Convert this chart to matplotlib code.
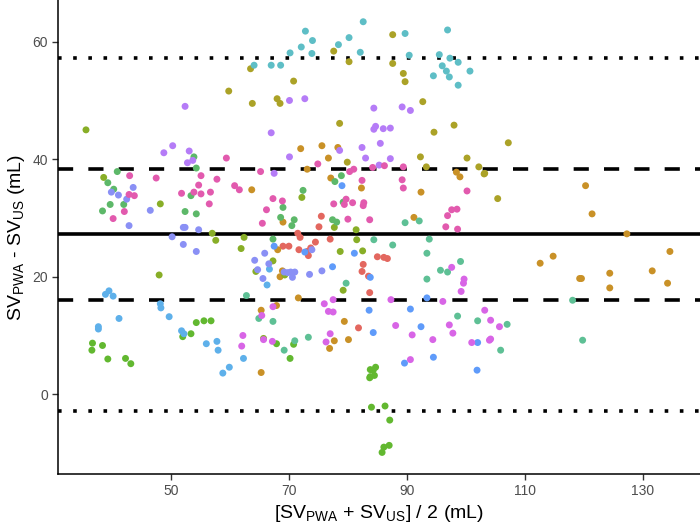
import numpy as np
import matplotlib
matplotlib.use("Agg")
from matplotlib import pyplot as plt

plt.rcParams['font.family'] = ['Liberation Sans', 'DejaVu Sans']
plt.rcParams['mathtext.fontset'] = 'custom'
plt.rcParams['mathtext.rm'] = 'Liberation Sans'
plt.rcParams['mathtext.it'] = 'Liberation Sans'

# mean difference and limits
bias = 27.2
inner_lo, inner_hi = 16.05, 38.3
loa_lo, loa_hi = -2.9, 57.3

# points per subject: (mean of the two SV, difference)
gold = [(72.0, 41.8), (75.6, 42.3), (78.3, 42.0), (76.7, 40.2), (63.7, 34.8), (65.3, 14.3),
        (65.3, 3.7), (77.7, 9.1), (76.9, 7.8), (80.1, 9.3), (79.4, 12.4), (120.3, 35.5),
        (121.4, 30.7), (127.3, 27.3), (134.6, 24.3), (114.8, 23.5), (112.6, 22.3), (131.6, 21.0),
        (124.4, 20.6), (119.3, 19.7), (119.6, 19.7), (134.2, 18.9), (124.4, 18.1), (73.1, 38.3),
        (98.4, 37.8), (99.0, 37.0), (77.1, 36.8), (82.3, 35.1), (92.4, 34.4), (69.0, 29.3),
        (91.2, 30.1), (68.1, 24.6), (68.9, 21.0), (68.5, 20.0), (71.6, 16.4), (67.9, 15.1)]
olive = [(63.5, 55.4), (59.8, 51.6), (63.8, 49.5), (68.0, 50.3), (77.6, 58.4), (80.2, 56.6),
         (87.6, 61.2), (87.6, 56.3), (89.4, 54.6), (89.7, 53.2), (70.8, 53.3), (68.5, 49.5),
         (92.7, 49.8), (78.6, 46.1), (98.0, 45.8), (94.6, 44.6), (79.9, 39.5), (92.3, 40.4),
         (100.2, 40.2), (107.2, 42.8), (103.2, 37.6), (105.4, 33.3), (93.3, 38.7), (102.2, 38.7),
         (103.1, 37.5)]
yellowgreen = [(35.6, 45.0), (38.6, 36.9), (48.2, 32.4), (57.0, 27.4), (57.6, 26.2), (62.4, 26.7),
               (61.9, 24.8), (67.3, 22.7), (64.4, 20.9), (48.0, 20.3), (72.2, 33.5), (77.7, 28.4),
               (81.4, 28.0), (81.5, 26.3), (78.7, 24.3), (82.5, 24.4), (69.3, 20.3), (79.2, 17.7),
               (65.7, 9.5)]
green = [(54.3, 12.2), (55.6, 12.5), (56.8, 12.5), (36.7, 8.7), (36.6, 7.5), (38.4, 8.3),
         (39.3, 6.0), (42.3, 6.1), (43.2, 5.2), (52.0, 9.8), (53.4, 10.3), (67.9, 8.6),
         (70.8, 8.5), (70.2, 6.1), (83.8, 4.2), (84.7, 4.6), (84.3, 4.1), (84.5, 3.2),
         (83.7, 2.8), (83.8, 3.0), (84.0, -2.2), (86.3, -2.0), (87.1, -4.4), (87.0, -8.7),
         (86.1, -9.0), (85.8, -9.9)]
midgreen = [(40.9, 37.9), (39.3, 36.0), (40.3, 34.9), (39.7, 32.3), (42.0, 32.3), (38.4, 31.2),
            (53.9, 40.4), (54.3, 38.5), (53.4, 33.8), (52.4, 31.1), (54.3, 30.7), (67.3, 26.4),
            (78.9, 37.2), (77.8, 36.2), (72.4, 34.7), (69.0, 31.8), (79.2, 32.7), (68.6, 30.1),
            (70.9, 29.7), (70.5, 28.7), (77.4, 29.7), (78.1, 29.3)]
teal = [(62.8, 16.8), (64.9, 12.9), (67.3, 12.4), (71.0, 9.1), (69.2, 7.5), (73.3, 9.7),
        (102.0, 12.5), (107.0, 11.9), (105.9, 7.5), (119.8, 9.2), (118.1, 16.0), (89.7, 29.2),
        (92.1, 29.5), (84.4, 26.3), (87.6, 25.4), (93.8, 26.4), (93.4, 24.0), (95.7, 21.1),
        (96.9, 20.8), (99.1, 22.6), (93.4, 19.6), (79.7, 18.9), (98.6, 13.3)]
cyan = [(64.1, 56.0), (67.0, 56.0), (82.6, 63.4), (72.8, 61.8), (74.0, 60.2), (72.1, 59.1),
        (70.2, 58.1), (73.9, 58.0), (78.4, 59.5), (80.2, 60.7), (82.1, 58.2), (68.6, 56.0),
        (89.7, 61.4), (96.9, 62.0), (90.4, 57.7), (95.5, 57.8), (97.3, 57.2), (98.7, 56.5),
        (96.0, 55.9), (96.7, 55.0), (97.2, 54.0), (94.5, 54.2), (100.7, 55.0), (98.7, 52.6)]
lightblue = [(66.7, 21.3), (66.3, 18.6), (38.9, 17.0), (39.5, 17.6), (40.2, 16.7), (48.2, 15.4),
             (48.3, 14.7), (49.7, 13.2), (41.2, 12.9), (37.7, 11.5), (37.7, 11.1), (51.8, 10.8),
             (52.2, 10.3), (56.0, 8.6), (57.8, 9.0), (58.0, 7.5), (59.9, 4.6), (58.8, 3.6),
             (62.3, 6.1)]
blue = [(84.3, 10.5), (92.4, 11.5), (102.0, 8.8), (101.9, 4.1), (89.6, 5.3), (94.5, 6.3),
        (79.0, 35.5), (67.5, 25.2), (72.7, 24.2), (81.1, 24.0), (77.4, 21.7), (83.8, 19.9),
        (83.6, 14.3), (90.6, 14.5), (93.4, 16.4)]
periwinkle = [(43.6, 35.2), (39.9, 34.4), (41.1, 33.9), (42.5, 33.2), (42.9, 28.7), (46.5, 31.3),
              (52.1, 28.4), (52.4, 28.4), (54.7, 28.0), (50.2, 26.8), (52.1, 25.5), (54.3, 24.3),
              (65.9, 24.0), (64.2, 22.8), (64.7, 21.2), (66.6, 22.2), (65.6, 19.7), (73.9, 24.6),
              (69.2, 20.8), (69.8, 20.7), (70.3, 20.8), (71.0, 20.8), (70.6, 19.9), (73.5, 20.4),
              (75.6, 21.0)]
purple = [(52.4, 49.0), (67.0, 44.5), (50.3, 42.3), (48.8, 41.1), (53.1, 41.4), (53.7, 39.8),
          (52.8, 39.4), (70.1, 50.0), (72.7, 50.3), (84.4, 48.7), (89.2, 48.9), (90.6, 48.3),
          (84.7, 45.6), (84.4, 45.1), (86.0, 45.2), (87.2, 45.3), (85.5, 42.7), (82.4, 42.0),
          (78.6, 41.5), (70.1, 40.4), (83.0, 40.2), (87.2, 40.1), (67.5, 37.6), (85.3, 39.0)]
magenta = [(65.4, 13.4), (67.3, 14.9), (62.2, 10.0), (62.0, 8.2), (65.7, 9.3), (67.2, 9.0),
           (77.0, 10.3), (76.3, 8.9), (88.1, 11.7), (90.9, 10.1), (94.4, 9.3), (97.2, 11.8),
           (97.8, 10.4), (101.0, 8.8), (104.0, 9.2), (90.6, 5.9), (104.2, 12.6), (105.7, 11.5),
           (104.2, 9.4), (103.2, 14.3), (97.6, 21.6), (99.7, 19.6), (99.6, 18.9), (99.2, 17.5),
           (76.0, 15.4), (77.5, 16.1), (76.7, 14.1), (77.5, 14.0), (87.3, 16.1), (96.1, 15.8)]
pink = [(59.4, 40.2), (74.9, 39.2), (86.2, 38.9), (89.4, 38.7), (43.0, 37.2), (47.5, 36.8),
        (42.9, 34.0), (43.8, 33.8), (42.1, 31.1), (40.2, 29.9), (55.1, 37.2), (57.8, 36.6),
        (54.7, 35.6), (51.8, 34.2), (53.9, 34.4), (55.1, 34.1), (56.7, 34.4), (56.5, 32.4),
        (60.8, 35.5), (61.6, 34.8), (65.2, 37.9), (67.3, 33.3), (66.2, 31.4), (65.5, 29.1),
        (81.0, 38.3), (80.3, 37.9), (84.2, 38.6), (82.4, 36.4), (89.2, 36.5), (89.4, 35.1),
        (100.2, 34.6), (68.9, 32.9), (77.6, 32.4), (79.7, 33.2), (79.4, 32.3), (80.8, 32.6),
        (82.7, 32.6), (82.6, 32.1), (80.0, 29.8), (83.7, 29.7), (97.6, 31.4), (98.5, 31.5),
        (96.9, 30.4), (96.6, 28.5), (98.6, 28.1)]
red = [(81.8, 11.3), (75.5, 30.3), (75.1, 28.5), (71.9, 26.7), (71.5, 27.4), (74.5, 25.9),
       (77.0, 26.4), (69.0, 25.2), (70.0, 25.2), (73.7, 24.9), (71.7, 24.6), (73.1, 24.3),
       (73.3, 23.6), (85.0, 23.4), (86.1, 23.3), (86.7, 23.1), (82.6, 22.1), (82.4, 20.9),
       (83.5, 20.1), (83.7, 17.3)]

groups = [(red, '#E3675F'), (gold, '#C99127'), (olive, '#ABA227'), (yellowgreen, '#88AE27'),
          (green, '#62B830'), (midgreen, '#5DB869'), (teal, '#5EC095'), (cyan, '#5EBEC6'),
          (lightblue, '#5EB0EA'), (blue, '#5F9BFA'), (periwinkle, '#8A90F5'),
          (purple, '#B57CF7'), (magenta, '#D865E6'), (pink, '#E25AAE')]

fig = plt.figure(figsize=(7, 5.29), dpi=100)
ax = fig.add_axes([0.0824, 0.104, 0.9176, 0.896])

lw = 2.6
ax.axhline(bias, color='black', lw=lw, zorder=1)
for v in (inner_lo, inner_hi):
    ax.axhline(v, color='black', lw=lw, dashes=(4.2, 4.2), zorder=1)
for v in (loa_lo, loa_hi):
    ax.axhline(v, color='black', lw=lw, dashes=(1, 3.2), dash_capstyle='butt', zorder=1)

for pts, col in groups:
    pts = np.array(pts)
    ax.scatter(pts[:, 0], pts[:, 1], s=25, color=col, edgecolors='none', zorder=2)

ax.set_xlim(30.8, 139.7)
ax.set_ylim(-13.57, 67.1)
ax.set_xticks([50, 70, 90, 110, 130])
ax.set_yticks([0, 20, 40, 60])

for s in ('top', 'right'):
    ax.spines[s].set_visible(False)
for s in ('left', 'bottom'):
    ax.spines[s].set_linewidth(1.1)
    ax.spines[s].set_color('black')
ax.tick_params(length=4, width=1.0, color='#333333', labelsize=10, labelcolor='#4D4D4D', pad=3)

ax.set_xlabel(r'[SV$_{\mathrm{PWA}}$ + SV$_{\mathrm{US}}$] / 2 (mL)', fontsize=14, labelpad=4)
ax.set_ylabel(r'SV$_{\mathrm{PWA}}$ - SV$_{\mathrm{US}}$ (mL)', fontsize=14, labelpad=4)

fig.savefig('out.png', dpi=100)
